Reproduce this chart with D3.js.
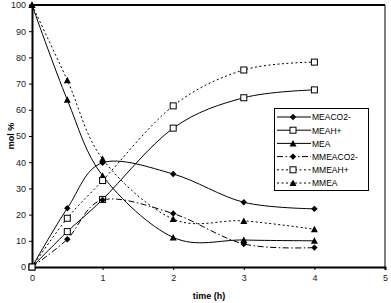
<!DOCTYPE html>
<html>
<head>
<meta charset="utf-8">
<script src="https://cdn.jsdelivr.net/npm/d3@7"></script>
<style>
	body { margin: 0; background: #fff; }
	svg text { font-family: "Liberation Sans", Arial, sans-serif; }
</style>
</head>
<body>
<div id="chart"></div>
<script>
const times = [0, 0.5, 1, 2, 3, 4];
const xTicks = [0, 1, 2, 3, 4, 5];
const yTicks = [0, 10, 20, 30, 40, 50, 60, 70, 80, 90, 100];

const meaco2 = [0, 22.4, 39.8, 35.5, 24.7, 22.2];
const meah = [0, 13.5, 25.8, 53, 64.6, 67.6];
const mea = [100, 63.8, 34.8, 11.3, 10.3, 10.0];
const mmeaco2 = [0, 10.6, 25.6, 20.4, 8.8, 7.4];
const mmeah = [0, 18.6, 33, 61.5, 75.2, 78.2];
const mmea = [100, 71.3, 41.2, 18.3, 17.6, 14.4];

const seriesNames = ["MEACO2-", "MEAH+", "MEA", "MMEACO2-", "MMEAH+", "MMEA"];
const seriesValues = [meaco2, meah, mea, mmeaco2, mmeah, mmea];
const seriesMarker = ["diamond", "square", "triangle", "diamond", "square", "triangle"];
const seriesDash = [null, null, null, "6,2.5,1.5,2.5", "2,2.5", "2,2.5"];

const width = 391, height = 303;
const plotL = 32, plotR = 385, plotT = 5, plotB = 267;

const svg = d3.select("#chart")
			.append("svg")
			.attr("width", width)
			.attr("height", height);

const xScale = d3.scaleLinear().domain([0, 5]).range([plotL, plotR]);
const yScale = d3.scaleLinear().domain([0, 100]).range([plotB, plotT]);

// frame: top and right
svg.append("line")
	.attr("x1", plotL).attr("x2", plotR)
	.attr("y1", plotT).attr("y2", plotT)
	.attr("stroke", "#000").attr("stroke-width", 2);
svg.append("line")
	.attr("x1", plotR).attr("x2", plotR)
	.attr("y1", plotT).attr("y2", plotB)
	.attr("stroke", "#000").attr("stroke-width", 1);

const yAxis = d3.axisLeft(yScale).tickValues(yTicks).tickFormat(d3.format("d")).tickSize(3).tickPadding(3);
const gy = svg.append("g")
	.attr("transform", `translate(${plotL},0)`)
	.call(yAxis);
gy.select(".domain").attr("stroke-width", 2);

const xAxis = d3.axisBottom(xScale).tickValues(xTicks).tickFormat(d3.format("d")).tickSize(3).tickPadding(5);
const gx = svg.append("g")
	.attr("transform", `translate(0,${plotB})`)
	.call(xAxis);
gx.select(".domain").attr("stroke-width", 2);

svg.selectAll(".tick text").attr("font-size", 9).attr("fill", "#222");

svg.append("text")
	.attr("x", 209).attr("y", 299)
	.attr("text-anchor", "middle")
	.attr("font-size", 9).attr("font-weight", "bold")
	.text("time (h)");

svg.append("text")
	.attr("transform", "translate(14,136) rotate(-90)")
	.attr("text-anchor", "middle")
	.attr("font-size", 9).attr("font-weight", "bold")
	.text("mol %");

const line = d3.line()
	.x((d, i) => xScale(times[i]))
	.y(d => yScale(d))
	.curve(d3.curveCatmullRom.alpha(0));

function drawMarker(g, type, x, y) {
	if (type === "diamond") {
		g.append("path")
			.attr("d", `M${x},${y - 3.2}L${x + 3.2},${y}L${x},${y + 3.2}L${x - 3.2},${y}Z`)
			.attr("fill", "#000");
	} else if (type === "square") {
		g.append("rect")
			.attr("x", x - 3).attr("y", y - 3)
			.attr("width", 6).attr("height", 6)
			.attr("fill", "#fff").attr("stroke", "#000").attr("stroke-width", 1);
	} else {
		g.append("path")
			.attr("d", `M${x},${y - 3.5}L${x + 3.5},${y + 3}L${x - 3.5},${y + 3}Z`)
			.attr("fill", "#000");
	}
}

seriesValues.forEach((vals, s) => {
	svg.append("path")
		.attr("d", line(vals))
		.attr("fill", "none")
		.attr("stroke", "#000")
		.attr("stroke-width", 1)
		.attr("stroke-dasharray", seriesDash[s]);
});
seriesValues.forEach((vals, s) => {
	const g = svg.append("g");
	vals.forEach((v, i) => drawMarker(g, seriesMarker[s], xScale(times[i]), yScale(v)));
});

// legend
const legend = svg.append("g");
legend.append("rect")
	.attr("x", 274.5).attr("y", 108.5)
	.attr("width", 94).attr("height", 82)
	.attr("fill", "#fff").attr("stroke", "#000").attr("stroke-width", 1);

seriesNames.forEach((name, s) => {
	const y = 117 + s * 13.2;
	legend.append("line")
		.attr("x1", 277).attr("x2", 311)
		.attr("y1", y).attr("y2", y)
		.attr("stroke", "#000").attr("stroke-width", 1)
		.attr("stroke-dasharray", seriesDash[s]);
	drawMarker(legend, seriesMarker[s], 293, y);
	legend.append("text")
		.attr("x", 312).attr("y", y + 3.3)
		.attr("font-size", 8.5)
		.text(name);
});
</script>
</body>
</html>
